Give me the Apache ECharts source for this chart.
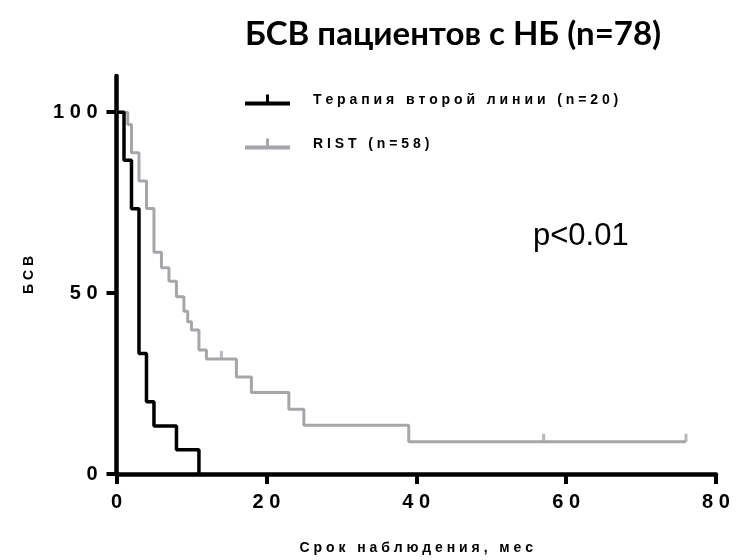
<!DOCTYPE html>
<html>
<head>
<meta charset="utf-8">
<script src="https://cdn.jsdelivr.net/npm/echarts@6/dist/echarts.min.js"></script>
<style>
  html, body { margin: 0; padding: 0; background: #fff; }
  #chart { width: 752px; height: 560px; }
</style>
</head>
<body>
<div id="chart"></div>
<script>
// Kaplan–Meier event-free survival, two treatment groups
const titleText = 'БСВ пациентов с НБ (n=78)';
const xAxisName = 'Срок наблюдения, мес';
const yAxisName = 'БСВ';
const pValueText = 'p<0.01';

const xTicks = [0, 20, 40, 60, 80];
const yTicks = [0, 50, 100];

// Second-line therapy group: step times (months) and survival after each step (%)
const secondLineName = 'Терапия второй линии (n=20)';
const secondLineTimes = [0, 1, 2, 3, 4, 5, 8, 11];
const secondLineValues = [100, 86.7, 73.3, 33.3, 20, 13.3, 6.7, 0];

// RIST group
const ristName = 'RIST (n=58)';
const ristTimes = [0, 1.5, 2, 3, 4, 5, 6, 7, 8, 9, 9.5, 10, 11, 12, 16, 18, 23, 25, 39, 76];
const ristValues = [100, 96.6, 88.8, 81, 73.4, 61.3, 57, 53.3, 49, 45, 42.1, 39.8, 34.3, 31.8, 26.8, 22.5, 17.9, 13.5, 8.9, 8.9];
// Censored observations in the RIST group
const ristCensorTimes = [14, 57, 76];
const ristCensorValues = [31.8, 8.9, 8.9];

const BLACK = '#000000';
const GREY = '#a6a6aa';
const tickFont = '"Liberation Sans", Arial, sans-serif';

// Spread letters apart (spaced-out typography of the labels)
function spaced(s) {
  return s.split(' ').map(w => w.split('').join(' ')).join('   ');
}
const zip = (a, b) => a.map((v, i) => [v, b[i]]);

const chart = echarts.init(document.getElementById('chart'), null, { renderer: 'canvas' });

chart.setOption({
  animation: false,
  backgroundColor: '#fff',
  title: {
    text: titleText,
    left: 240,
    top: 13,
    textStyle: {
      fontFamily: 'Lato, "Open Sans", "Noto Sans", sans-serif',
      fontWeight: 'bold',
      fontSize: 33,
      color: '#000'
    }
  },
  grid: { left: 116.5, right: 36, top: 76, bottom: 83.5, containLabel: false },
  legend: {
    orient: 'vertical',
    left: 245,
    top: 93,
    padding: 0,
    itemWidth: 45,
    itemHeight: 11,
    itemGap: 30,
    data: [secondLineName, ristName],
    formatter: name => spaced(name),
    textStyle: {
      fontFamily: tickFont,
      fontWeight: 'bold',
      fontSize: 14,
      color: '#000',
      padding: [0, 0, 0, 18]
    },
    icon: 'path://M0,7H45V11H0Z M21,0H24V7H21Z'
  },
  xAxis: {
    type: 'value',
    min: 0,
    max: 80,
    interval: 20,
    name: spaced(xAxisName),
    nameLocation: 'middle',
    nameGap: 67,
    nameTextStyle: { fontFamily: tickFont, fontWeight: 'bold', fontSize: 14, color: '#000' },
    axisLine: { show: true, onZero: false, lineStyle: { color: '#000', width: 4.5 } },
    axisTick: { show: true, inside: false, length: 10, lineStyle: { color: '#000', width: 4 } },
    axisLabel: {
      margin: 18,
      fontFamily: tickFont,
      fontWeight: 'bold',
      fontSize: 20,
      color: '#000',
      formatter: v => spaced(String(v))
    },
    splitLine: { show: false }
  },
  yAxis: {
    type: 'value',
    min: 0,
    max: 110,
    interval: 50,
    name: spaced(yAxisName),
    nameLocation: 'middle',
    nameGap: 80,
    nameRotate: 90,
    nameTextStyle: { fontFamily: tickFont, fontWeight: 'bold', fontSize: 14, color: '#000' },
    axisLine: { show: true, onZero: false, lineStyle: { color: '#000', width: 4.5 } },
    axisTick: { show: true, inside: false, length: 10, customValues: yTicks, lineStyle: { color: '#000', width: 4 } },
    axisLabel: {
      margin: 19,
      customValues: yTicks,
      fontFamily: tickFont,
      fontWeight: 'bold',
      fontSize: 20,
      color: '#000',
      formatter: v => spaced(String(v))
    },
    splitLine: { show: false }
  },
  series: [
    {
      name: ristName,
      type: 'line',
      step: 'end',
      data: zip(ristTimes, ristValues),
      showSymbol: false,
      symbol: 'none',
      color: GREY,
      lineStyle: { color: GREY, width: 3 },
      z: 2
    },
    {
      name: ristName,
      type: 'scatter',
      data: zip(ristCensorTimes, ristCensorValues),
      symbol: 'rect',
      symbolSize: [3, 8],
      symbolOffset: [0, -4],
      itemStyle: { color: GREY },
      z: 2
    },
    {
      name: secondLineName,
      type: 'line',
      step: 'end',
      data: zip(secondLineTimes, secondLineValues),
      showSymbol: false,
      symbol: 'none',
      color: BLACK,
      lineStyle: { color: BLACK, width: 3.5 },
      z: 3
    }
  ],
  graphic: [
    {
      type: 'text',
      left: 533,
      top: 221,
      style: {
        text: pValueText,
        fontFamily: tickFont,
        fontSize: 31,
        fill: '#000'
      }
    }
  ]
});
</script>
</body>
</html>
